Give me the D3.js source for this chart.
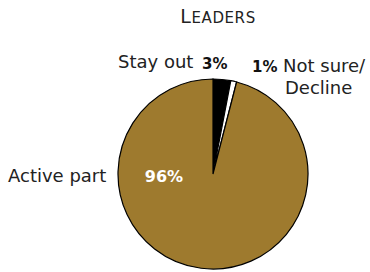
<!DOCTYPE html>
<html><head><meta charset="utf-8">
<script src="https://cdn.jsdelivr.net/npm/d3@7"></script>
<style>body{margin:0;background:#fff}svg{display:block}</style>
</head><body>
<script>
const categories = ["Stay out", "Not sure/Decline", "Active part"];
const values = [3, 1, 96];
const valueLabels = ["3%", "1%", "96%"];
const colors = ["#000000", "#ffffff", "#9e7a2e"];
const title = "Leaders";

const W = 370, H = 272, cx = 213, cy = 174, r = 95;
const svg = d3.select("body").append("svg").attr("width", W).attr("height", H);

const pie = d3.pie().sort(null).value(d => d)(values);
const arc = d3.arc().innerRadius(0).outerRadius(r);
const g = svg.append("g").attr("transform", `translate(${cx},${cy})`);
g.selectAll("path").data(pie).join("path")
  .attr("d", arc)
  .attr("fill", (d, i) => colors[i])
  .attr("stroke", "#000").attr("stroke-width", 1.2);

// title (small caps)
const t = svg.append("text").attr("x", 218).attr("y", 23).attr("text-anchor", "middle")
  .attr("font-family", "DejaVu Sans").attr("fill", "#222").attr("letter-spacing", 0.6);
t.append("tspan").attr("font-size", 19).text(title[0].toUpperCase());
t.append("tspan").attr("font-size", 15).text(title.slice(1).toUpperCase());

const font = "DejaVu Sans";
// Stay out
svg.append("text").attr("x", 118).attr("y", 68).attr("font-family", font).attr("font-size", 18).attr("fill", "#222").text(categories[0]);
svg.append("text").attr("x", 202).attr("y", 69).attr("font-family", font).attr("font-size", 15).attr("font-weight", "bold").attr("fill", "#111").text(valueLabels[0]);
// Not sure / Decline
svg.append("text").attr("x", 252).attr("y", 72).attr("font-family", font).attr("font-size", 15).attr("font-weight", "bold").attr("fill", "#111").text(valueLabels[1]);
const parts = categories[1].split("/");
svg.append("text").attr("x", 283).attr("y", 72).attr("font-family", font).attr("font-size", 18).attr("fill", "#222").text(parts[0] + "/");
svg.append("text").attr("x", 285).attr("y", 94).attr("font-family", font).attr("font-size", 18).attr("fill", "#222").text(parts[1]);
// Active part
svg.append("text").attr("x", 8).attr("y", 182).attr("font-family", font).attr("font-size", 18).attr("fill", "#222").text(categories[2]);
svg.append("text").attr("x", 164).attr("y", 182).attr("text-anchor", "middle").attr("font-family", font).attr("font-size", 16).attr("font-weight", "bold").attr("fill", "#fff").text(valueLabels[2]);
</script>
</body></html>
